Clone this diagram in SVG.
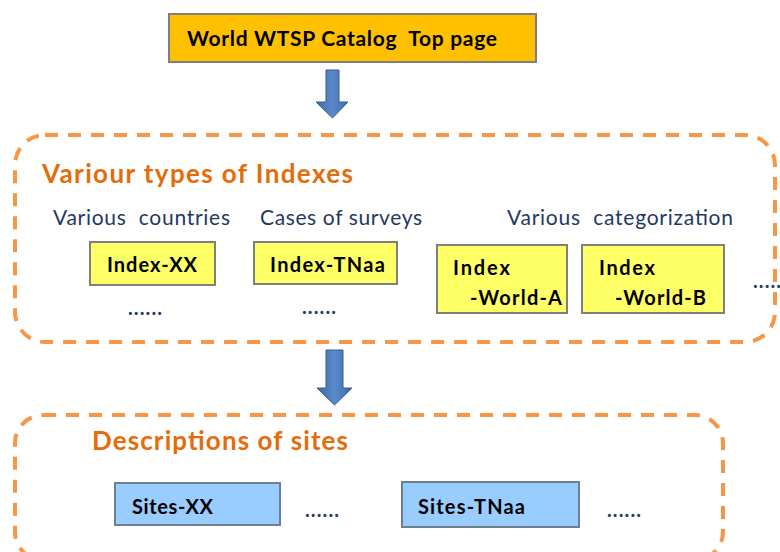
<svg xmlns="http://www.w3.org/2000/svg" width="780" height="552" viewBox="0 0 780 552">
<style>
text{font-family:Lato,"Liberation Sans",sans-serif;white-space:pre}
.grp{fill:none;stroke:#F79646;stroke-width:4;stroke-dasharray:13 10}
.ttl{fill:#E46C0A;font-weight:bold;font-size:26px}
.sub{fill:#1F3864;font-size:21px}
.lbl{fill:#000;font-weight:bold;font-size:20px}
.yel{fill:#FFFF66;stroke:#7F7F7F;stroke-width:2}
.blu{fill:#99CCFF;stroke:#6F7F8F;stroke-width:2}
.dots{fill:#1F3864;font-size:20px;font-weight:bold}
.arr{fill:url(#ag);stroke:#385D8A;stroke-width:1}
</style>
<defs>
<linearGradient id="ag" x1="0" x2="1" y1="0" y2="0">
<stop offset="0" stop-color="#3C6BA8"/>
<stop offset="0.5" stop-color="#5A8ACB"/>
<stop offset="1" stop-color="#3C6BA8"/>
</linearGradient>
</defs>
<g id="top">
<rect x="169" y="14" width="367" height="48" fill="#FFC000" stroke="#7F7F7F" stroke-width="2"/>
<text x="187" y="46" class="lbl" style="font-size:21px" textLength="310">World WTSP Catalog  Top page</text>
</g>
<g id="connectors">
<path class="arr" d="M326 70 H339 V102 H348 L332.5 118 L316 102 H326 Z"/>
<path class="arr" d="M326 350 H343 V388 H352 L334.5 405 L317 388 H326 Z"/>
</g>
<g id="indexes">
<rect class="grp" x="15" y="135" width="760" height="207" rx="30" ry="30"/>
<text x="42" y="183" class="ttl" textLength="311">Variour types of Indexes</text>
<text x="53" y="225" class="sub" textLength="177">Various  countries</text>
<text x="260" y="225" class="sub" textLength="162">Cases of surveys</text>
<text x="507" y="225" class="sub" textLength="226">Various  categorization</text>
</g>
<g id="index-xx">
<rect class="yel" x="90" y="242" width="125" height="43"/>
<text x="107" y="272" class="lbl" textLength="90">Index-XX</text>
<text x="128" y="315" class="dots" textLength="34">......</text>
</g>
<g id="index-tnaa">
<rect class="yel" x="254" y="242" width="143" height="42"/>
<text x="270" y="272" class="lbl" textLength="115">Index-TNaa</text>
<text x="302" y="314" class="dots" textLength="34">......</text>
</g>
<g id="index-world-a">
<rect class="yel" x="437" y="245" width="130" height="68"/>
<text x="453" y="275" class="lbl" textLength="57">Index</text>
<text x="470" y="305" class="lbl" textLength="92">-World-A</text>
</g>
<g id="index-world-b">
<rect class="yel" x="582" y="245" width="142" height="68"/>
<text x="599" y="275" class="lbl" textLength="56">Index</text>
<text x="615" y="305" class="lbl" textLength="91">-World-B</text>
</g>
<text x="753" y="288" class="dots" textLength="28">.....</text>
<g id="sites">
<rect class="grp" x="15" y="415" width="708" height="145" rx="28" ry="28"/>
<text x="92" y="450" class="ttl" textLength="256">Descriptions of sites</text>
</g>
<g id="sites-xx">
<rect class="blu" x="115" y="483" width="165" height="42"/>
<text x="132" y="514" class="lbl" textLength="81">Sites-XX</text>
<text x="305" y="517" class="dots" textLength="34">......</text>
</g>
<g id="sites-tnaa">
<rect class="blu" x="402" y="482" width="177" height="45"/>
<text x="418" y="514" class="lbl" textLength="107">Sites-TNaa</text>
<text x="607" y="517" class="dots" textLength="34">......</text>
</g>
</svg>
